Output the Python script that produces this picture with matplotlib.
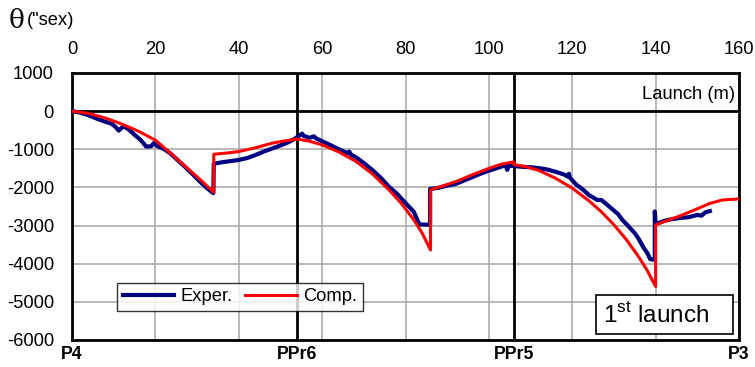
import matplotlib
matplotlib.use("Agg")
import matplotlib.pyplot as plt
from matplotlib.patches import Rectangle

plt.rcParams.update({
    "font.family": ["Liberation Sans", "DejaVu Sans"],
    "mathtext.fontset": "custom",
    "mathtext.rm": "Liberation Sans",
    "font.size": 13.2,
    "axes.unicode_minus": False,
})

# computed rotation (red)
comp_x = [0, 4, 8, 12, 16, 20, 24, 28, 31, 34, 34, 37, 40, 44, 48, 51, 54,
          57, 60, 64, 68, 72, 76, 79, 82, 84, 86, 86, 89, 92, 96, 100, 103, 106, 106,
          109, 112, 116, 120, 124, 127, 130, 133, 136, 138, 140, 140, 143, 146, 150,
          153, 156, 160]
comp_y = [0, -60, -180, -340, -530, -760, -1140, -1530, -1820, -2130, -1130, -1100,
          -1060, -960, -840, -780, -730,
          -790, -885, -1070, -1310, -1640, -2060, -2420, -2850, -3200, -3640, -2060,
          -1960, -1850, -1670, -1500, -1390, -1330, -1400,
          -1460, -1555, -1760, -2020, -2350, -2640, -2980, -3370, -3830, -4180, -4600,
          -2980, -2860, -2740, -2560, -2420, -2330, -2300]

# experimental rotation (blue)
exp_x = [0, 2, 4, 6, 8, 9.5, 10.5, 11.2, 12.3, 13.5, 15, 16.5, 17.8, 19, 19.6, 20.5,
         22, 23.5, 25, 27, 29, 31, 32.5, 33.9,
         34.0, 36, 38, 40, 42, 44, 46, 48, 50, 52, 53.5, 54.5, 55.2, 55.6, 57, 58, 58.5,
         60, 62, 64, 66, 66.5, 67, 68, 70, 72, 74, 76, 78, 80, 82, 83.3, 85.9,
         85.9, 88, 90, 92, 94, 96, 98, 100, 102, 104, 104.4, 104.8, 106, 108, 110, 112,
         114, 116, 118, 119, 119.2, 119.4, 121, 122.5, 124, 126, 127, 128, 129.5, 131,
         132, 133.5, 135, 136, 137, 138, 138.7, 139.8,
         139.8, 140, 141, 142, 144, 146, 148, 150, 151, 152, 153]
exp_y = [0, -40, -110, -200, -280, -330, -420, -510, -400, -470, -620, -760, -930,
         -920, -840, -920, -990, -1100, -1250, -1450, -1660, -1880, -2030, -2150,
         -1380, -1340, -1310, -1280, -1230, -1150, -1060, -980, -900, -810, -720, -640,
         -590, -650, -700, -660, -710,
         -790, -890, -1000, -1100, -1060, -1150, -1200, -1360, -1540, -1740, -1980,
         -2170, -2410, -2640, -2970, -2980,
         -2040, -2010, -1950, -1910, -1820, -1730, -1640, -1560, -1490, -1420, -1540,
         -1430, -1440, -1460, -1470, -1495,
         -1530, -1590, -1660, -1720, -1640, -1740, -1930, -2050, -2200, -2330, -2330,
         -2420, -2560, -2700,
         -2850, -3020, -3200, -3360, -3560, -3720, -3880, -3900,
         -2630, -2950, -2920, -2880, -2830, -2800, -2780, -2720, -2740, -2650, -2620]

supports = [0, 54, 106, 160]
support_labels = ["P4", "PPr6", "PPr5", "P3"]
x_ticks = list(range(0, 161, 20))
y_ticks = list(range(-6000, 1001, 1000))

fig = plt.figure(figsize=(7.55, 3.67), dpi=100)
ax = fig.add_axes([0.0954, 0.0736, 0.8834, 0.7275])

ax.set_xlim(0, 160)
ax.set_ylim(-6000, 1000)
ax.set_xticks(x_ticks)
ax.set_yticks(y_ticks)
ax.xaxis.tick_top()
ax.tick_params(axis="x", length=0, pad=11)
ax.tick_params(axis="y", length=0, pad=13)
ax.grid(True, color="#a6a6a6", linewidth=1.1)
ax.set_axisbelow(True)
for s in ax.spines.values():
    s.set_linewidth(2)
    s.set_color("black")

ax.axhline(0, color="black", linewidth=2, zorder=1.5)
for xs in supports[1:-1]:
    ax.axvline(xs, color="black", linewidth=2, zorder=1.5)

ax.plot(exp_x, exp_y, color="#000080", linewidth=3.0, label="Exper.", zorder=3)
ax.plot(comp_x, comp_y, color="#ff0000", linewidth=2.2, label="Comp.", zorder=4)

for xs, lab in zip(supports, support_labels):
    ax.annotate(lab, xy=(xs, 0), xycoords=("data", "axes fraction"),
                xytext=(0, -4), textcoords="offset points",
                ha="center", va="top", fontweight="bold", fontsize=12.8)

ax.text(159, 430, "Launch (m)", ha="right", va="center")

leg = ax.legend(loc="lower left", bbox_to_anchor=(0.054, 0.075), ncol=2,
                frameon=True, fancybox=False, handlelength=2.8,
                columnspacing=0.7, handletextpad=0.35, borderpad=0.3)
leg.get_frame().set_edgecolor("black")
leg.get_frame().set_linewidth(1)

ax.add_patch(Rectangle((0.7856, 0.0225), 0.2054, 0.146, transform=ax.transAxes,
                       facecolor="white", edgecolor="black", linewidth=1.2, zorder=5))
ax.text(0.8756, 0.0955, "1$^{\\mathrm{st}}$ launch", transform=ax.transAxes,
        ha="center", va="center", fontsize=17.5, zorder=6)

fig.text(0.012, 0.945, "\u03b8", fontsize=19, family=["DejaVu Serif"], va="center")
fig.text(0.036, 0.945, "(\"sex)", va="center")

fig.savefig("out.png", dpi=100)
